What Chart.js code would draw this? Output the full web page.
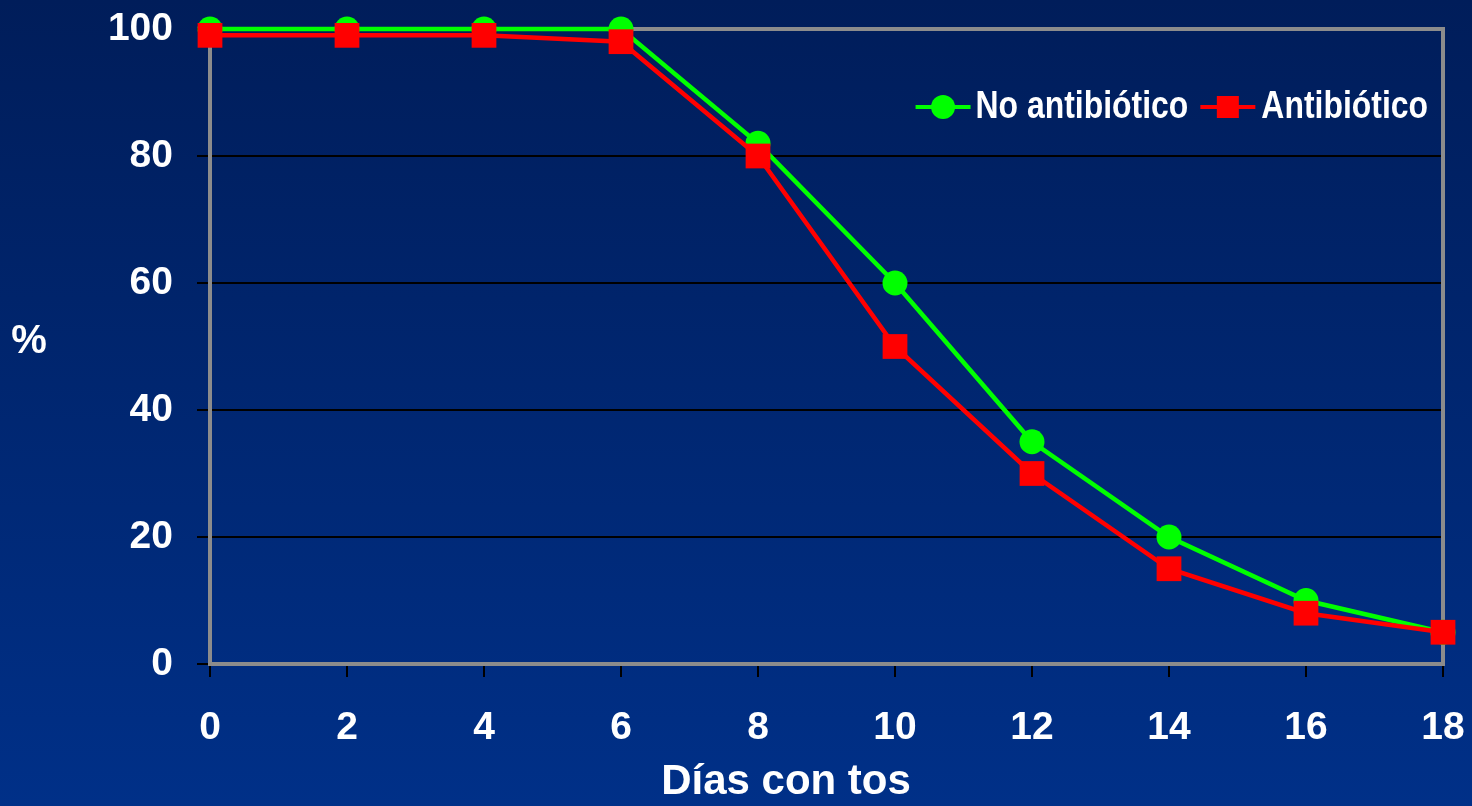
<!DOCTYPE html>
<html>
<head>
<meta charset="utf-8">
<script src="https://cdn.jsdelivr.net/npm/chart.js@4/dist/chart.umd.min.js"></script>
<style>
	html, body { margin: 0; padding: 0; background: #00266f; }
	#cough-chart { display: block; }
</style>
</head>
<body>
<canvas id="cough-chart" width="1472" height="806"></canvas>
<script>
/* data */

var days = [0, 2, 4, 6, 8, 10, 12, 14, 16, 18];
var noAntibiotic = [100, 100, 100, 100, 82, 60, 35, 20, 10, 5];
var antibiotic = [99, 99, 99, 98, 80, 50, 30, 15, 8, 5];

var seriesNames = ['No antibiótico', 'Antibiótico'];
var xTitle = 'Días con tos';
var yTitle = '%';

var green = '#00ff00';
var red = '#ff0000';
var tickFont = { family: 'Liberation Sans', weight: 'bold', size: 39 };

var toPoints = function(values) {
	var points = [];
	for (var i = 0; i < days.length; i++) {
		points.push({ x: days[i], y: values[i] });
	}
	return points;
};

// keep the plot box where the slide had it
var noPadding = function(scale) {
	scale.paddingTop = 0;
	scale.paddingBottom = 0;
	scale.paddingLeft = 0;
	scale.paddingRight = 0;
};

/* plugin: background, frame, legend, titles */

var decorations = {
	id: 'decorations',
	beforeDraw: function(chart) {
		var ctx = chart.ctx;
		var gradient = ctx.createLinearGradient(0, 0, 0, chart.height);
		gradient.addColorStop(0, '#001d5a');
		gradient.addColorStop(1, '#003088');
		ctx.save();
		ctx.fillStyle = gradient;
		ctx.fillRect(0, 0, chart.width, chart.height);
		ctx.restore();
	},
	beforeDatasetsDraw: function(chart) {
		var ctx = chart.ctx;
		var area = chart.chartArea;
		ctx.save();
		ctx.strokeStyle = '#8c8c8c';
		ctx.lineWidth = 4;
		ctx.strokeRect(area.left, area.top, area.right - area.left, area.bottom - area.top);
		ctx.restore();
	},
	afterDraw: function(chart) {
		var ctx = chart.ctx;
		var area = chart.chartArea;
		ctx.save();
		ctx.fillStyle = '#ffffff';
		ctx.textBaseline = 'middle';

		// axis titles
		ctx.font = 'bold 40px "Liberation Sans"';
		ctx.textAlign = 'center';
		ctx.fillText(yTitle, 29, 342);
		ctx.font = 'bold 42px "Liberation Sans"';
		ctx.fillText(xTitle, 786, 782);

		// legend, laid out from the right, text squeezed like a narrow face
		var squeeze = 0.84;
		ctx.font = 'bold 38px "Liberation Sans"';
		ctx.textAlign = 'left';
		var y = 107;
		var right = area.right - 15;
		var lineLen = 55;
		var w2 = ctx.measureText(seriesNames[1]).width * squeeze;
		var x2 = right - w2;
		var l2 = x2 - 6 - lineLen;
		var w1 = ctx.measureText(seriesNames[0]).width * squeeze;
		var x1 = l2 - 12 - w1;
		var l1 = x1 - 5 - lineLen;

		ctx.lineWidth = 4;
		ctx.strokeStyle = green;
		ctx.beginPath();
		ctx.moveTo(l1, y);
		ctx.lineTo(l1 + lineLen, y);
		ctx.stroke();
		ctx.fillStyle = green;
		ctx.beginPath();
		ctx.arc(l1 + lineLen / 2, y, 12, 0, Math.PI * 2);
		ctx.fill();

		ctx.strokeStyle = red;
		ctx.beginPath();
		ctx.moveTo(l2, y);
		ctx.lineTo(l2 + lineLen, y);
		ctx.stroke();
		ctx.fillStyle = red;
		ctx.fillRect(l2 + lineLen / 2 - 11, y - 11, 22, 22);

		ctx.fillStyle = '#ffffff';
		ctx.save();
		ctx.translate(x1, y + 1);
		ctx.scale(squeeze, 1);
		ctx.fillText(seriesNames[0], 0, 0);
		ctx.restore();
		ctx.save();
		ctx.translate(x2, y + 1);
		ctx.scale(squeeze, 1);
		ctx.fillText(seriesNames[1], 0, 0);
		ctx.restore();
		ctx.restore();
	}
};

/* chart */

var context = document.getElementById('cough-chart').getContext('2d');
var chart = new Chart(context, {
	type: 'line',
	data: {
		datasets: [
			{ label: seriesNames[0], data: toPoints(noAntibiotic), order: 1, clip: false, borderColor: green, backgroundColor: green, borderWidth: 4.5, pointStyle: 'circle', pointRadius: 12.5, pointBorderWidth: 0, pointHoverRadius: 12.5, tension: 0 },
			{ label: seriesNames[1], data: toPoints(antibiotic), order: 0, clip: false, borderColor: red, backgroundColor: red, borderWidth: 4.5, pointStyle: 'rect', pointRadius: 17.5, pointBorderWidth: 0, pointHoverRadius: 17.5, tension: 0 }
		]
	},
	options: {
		responsive: false,
		animation: false,
		devicePixelRatio: 1,
		layout: { padding: { top: 29, right: 29, left: 0, bottom: 0 } },
		plugins: {
			legend: { display: false },
			tooltip: { enabled: false },
			title: { display: false }
		},
		scales: {
			x: {
				type: 'linear',
				min: 0,
				max: 18,
				afterFit: function(scale) { scale.height = 142; noPadding(scale); },
				border: { display: false },
				grid: { drawOnChartArea: false, drawTicks: true, tickLength: 13, color: '#000000', lineWidth: 2 },
				ticks: { stepSize: 2, color: '#ffffff', font: tickFont, padding: 28, maxRotation: 0, autoSkip: false }
			},
			y: {
				min: 0,
				max: 100,
				afterFit: function(scale) { scale.width = 210; noPadding(scale); },
				border: { display: false },
				grid: { color: '#000000', lineWidth: 2, tickLength: 13 },
				ticks: { stepSize: 20, color: '#ffffff', font: tickFont, padding: 24 }
			}
		}
	},
	plugins: [decorations]
});
</script>
</body>
</html>
